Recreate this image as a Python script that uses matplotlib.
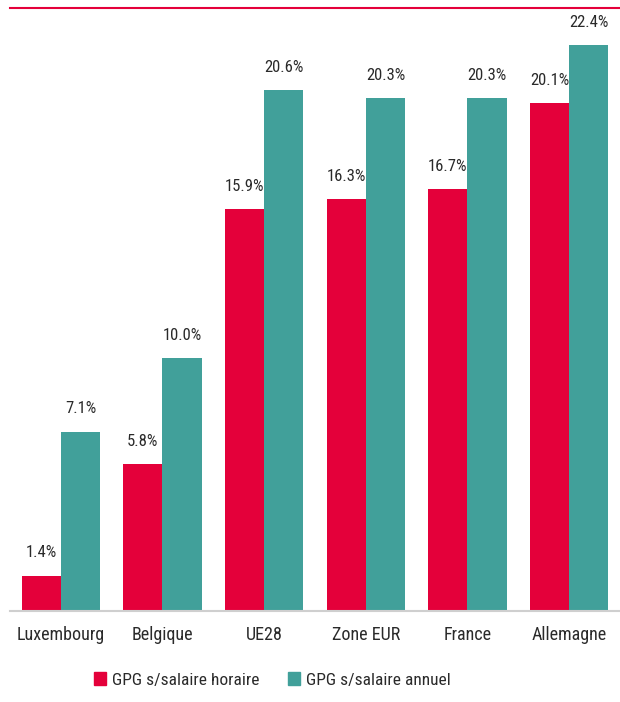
import matplotlib.pyplot as plt
from matplotlib.patches import Patch
import numpy as np

# data
pays = ["Luxembourg", "Belgique", "UE28", "Zone EUR", "France", "Allemagne"]
gpg_horaire = [1.4, 5.8, 15.9, 16.3, 16.7, 20.1]
gpg_annuel = [7.1, 10.0, 20.6, 20.3, 20.3, 22.4]
noms_series = ["GPG s/salaire horaire", "GPG s/salaire annuel"]

ROUGE = "#E4003A"
VERT = "#41A09A"

plt.rcParams['font.family'] = ['Roboto Condensed', 'DejaVu Sans']
plt.rcParams['font.stretch'] = 'condensed'

fig = plt.figure(figsize=(6.2, 7.02), dpi=100)
ax = fig.add_axes([10/620, 91/702, 610/620, 603/702])

x = np.arange(len(pays))
w = 0.385
b1 = ax.bar(x - w/2, gpg_horaire, w, color=ROUGE, zorder=2)
b2 = ax.bar(x + w/2, gpg_annuel, w, color=VERT, zorder=2)

# value labels above each bar
for bars, vals in ((b1, gpg_horaire), (b2, gpg_annuel)):
    for r, v in zip(bars, vals):
        ax.annotate("%.1f%%" % v, (r.get_x() + r.get_width()/2, v),
                    xytext=(0, 11), textcoords="offset points",
                    ha="center", va="bottom", fontsize=12,
                    color="#2a2a2a", zorder=5)

ax.set_xlim(-0.5, len(pays) - 0.5)
ax.set_ylim(0, 23.86)
ax.set_yticks([])
ax.set_xticks(x)
ax.set_xticklabels(pays, fontsize=13, color="#2a2a2a")
ax.tick_params(axis="x", length=0, pad=11)

for s in ("left", "right"):
    ax.spines[s].set_visible(False)
ax.spines["bottom"].set_color("#cfcfcf")
ax.spines["bottom"].set_linewidth(1.5)
ax.spines["top"].set_color(ROUGE)
ax.spines["top"].set_linewidth(1.5)

handles = [Patch(color=ROUGE), Patch(color=VERT)]
leg = fig.legend(handles, noms_series, loc="center left",
                 bbox_to_anchor=(94/620, 22/702), borderpad=0, borderaxespad=0,
                 ncol=2, frameon=False, fontsize=12.5, handlelength=0.7,
                 handleheight=0.7, handletextpad=0.35, columnspacing=1.6)
for t in leg.get_texts():
    t.set_color("#2a2a2a")

fig.savefig("out.png", dpi=100)
